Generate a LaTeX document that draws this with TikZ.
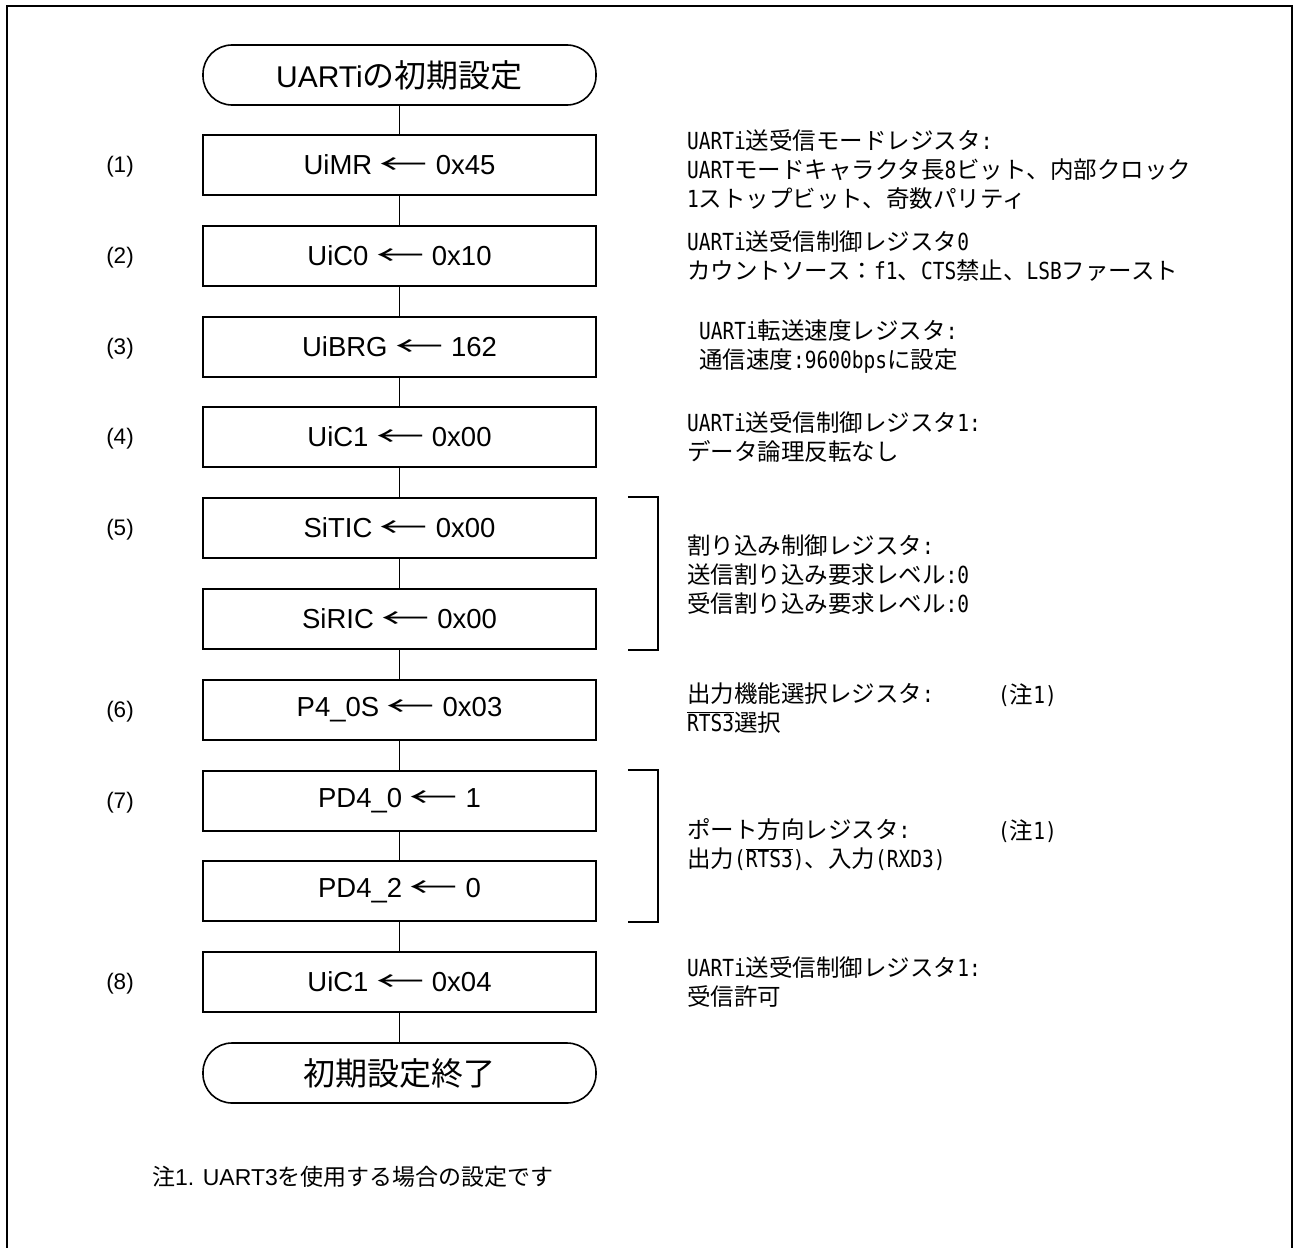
\documentclass[tikz,border=0pt]{standalone}
\usepackage{fontspec}
\usepackage{graphicx}
\usetikzlibrary{calc}
\setmainfont{Liberation Sans}
\newfontfamily\jpf{Noto Sans CJK JP}
\newfontfamily\latmono{DejaVu Sans Mono}[FakeStretch=0.83]
\newcommand\La[1]{{\latmono #1}}
\newcommand\myovl[1]{\setbox0\hbox{#1}\rlap{\rule[\dimexpr\ht0+0.5pt\relax]{\wd0}{1.2pt}}\box0}
\newcommand\lar{{\jpf\scalebox{1.75}[1]{←}}}
\begin{document}
\begin{tikzpicture}[x=1pt,y=-1pt,
  box/.style={draw, line width=1.6pt, minimum width=393pt, minimum height=60pt, inner sep=0pt, font=\fontsize{27.5}{31}\selectfont},
  term/.style={box, rounded corners=29pt, font=\fontsize{30}{34}\selectfont},
  lbl/.style={inner sep=0pt, font=\fontsize{22.5}{26}\selectfont},
  ann/.style={anchor=west, align=left, inner sep=0pt, font=\jpf\fontsize{23.5}{29}\selectfont},
  conn/.style={line width=1.6pt}]
\useasboundingbox (0,0) rectangle (1295,1247);
\draw[line width=2.2pt] (7,1270) -- (7,6) -- (1292,6) -- (1292,1270);

\node[term] (start) at (399.5,75) {UARTi{\jpf\fontsize{32}{36}\selectfont の初期設定}};
\node[box] (b1) at (399.5,165) {UiMR \lar{} 0x45};
\node[box] (b2) at (399.5,256) {UiC0 \lar{} 0x10};
\node[box] (b3) at (399.5,347) {UiBRG \lar{} 162};
\node[box] (b4) at (399.5,437) {UiC1 \lar{} 0x00};
\node[box] (b5a) at (399.5,528) {SiTIC \lar{} 0x00};
\node[box] (b5b) at (399.5,619) {SiRIC \lar{} 0x00};
\node[box] (b6) at (399.5,710) {P4\_0S \lar{} 0x03};
\node[box] (b7a) at (399.5,801) {PD4\_0 \lar{} 1};
\node[box] (b7b) at (399.5,891) {PD4\_2 \lar{} 0};
\node[box] (b8) at (399.5,982) {UiC1 \lar{} 0x04};
\node[term] (end) at (399.5,1073) {\jpf\fontsize{32}{36}\selectfont 初期設定終了};

\draw[conn] (start) -- (b1);
\draw[conn] (b1) -- (b2);
\draw[conn] (b2) -- (b3);
\draw[conn] (b3) -- (b4);
\draw[conn] (b4) -- (b5a);
\draw[conn] (b5a) -- (b5b);
\draw[conn] (b5b) -- (b6);
\draw[conn] (b6) -- (b7a);
\draw[conn] (b7a) -- (b7b);
\draw[conn] (b7b) -- (b8);
\draw[conn] (b8) -- (end);

\node[lbl] (l1) at (120,167) {(1)};
\node[lbl] (l2) at (120,258) {(2)};
\node[lbl] (l3) at (120,349) {(3)};
\node[lbl] (l4) at (120,439) {(4)};
\node[lbl] (l5) at (120,530) {(5)};
\node[lbl] (l6) at (120,712) {(6)};
\node[lbl] (l7) at (120,803) {(7)};
\node[lbl] (l8) at (120,984) {(8)};

\draw[conn] ($(b5a.north east)+(31,0)$) -- ++(30,0) |- ($(b5b.south east)+(31,0)$);
\draw[conn] ($(b7a.north east)+(31,0)$) -- ++(30,0) |- ($(b7b.south east)+(31,0)$);

\node[ann] (a1) at (687,170) {\La{UARTi}送受信モードレジスタ\La{:}\\\La{UART}モードキャラクタ長\La{8}ビット、内部クロック\\\La{1}ストップビット、奇数パリティ};
\node[ann] (a2) at (687,256) {\La{UARTi}送受信制御レジスタ\La{0}\\カウントソース：\La{f1}、\La{CTS}禁止、\La{LSB}ファースト};
\node[ann] (a3) at (699,347) {\La{UARTi}転送速度レジスタ\La{:}\\通信速度\La{:9600bps}に設定};
\node[ann] (a4) at (687,437) {\La{UARTi}送受信制御レジスタ\La{1:}\\データ論理反転なし};
\node[ann] (a5) at (687,575) {割り込み制御レジスタ\La{:}\\送信割り込み要求レベル\La{:0}\\受信割り込み要求レベル\La{:0}};
\node[ann] (a6) at (687,708) {出力機能選択レジスタ\La{:}\\\myovl{\La{RTS3}}選択};
\node[ann] (n6) at (998,695) {\La{(}注\La{1)}};
\node[ann] (a7) at (687,845) {ポート方向レジスタ\La{:}\\出力\La{(}\myovl{\La{RTS3}}\La{)}、入力\La{(RXD3)}};
\node[ann] (n7) at (998,831) {\La{(}注\La{1)}};
\node[ann] (a8) at (687,982) {\La{UARTi}送受信制御レジスタ\La{1:}\\受信許可};

\node[anchor=west, inner sep=0pt, font=\fontsize{23}{27}\selectfont] (note) at (152,1177) {{\jpf 注}1. UART3{\jpf を使用する場合の設定です}};
\end{tikzpicture}
\end{document}
